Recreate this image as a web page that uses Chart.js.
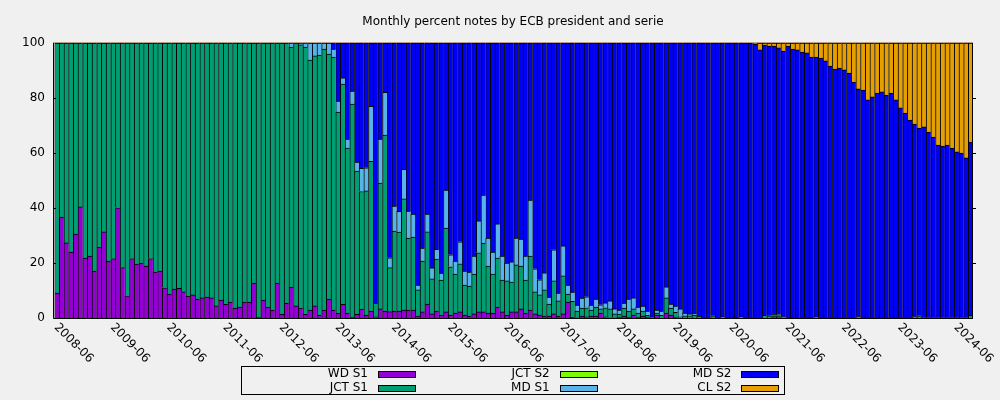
<!DOCTYPE html>
<html><head><meta charset="utf-8">
<script src="https://cdn.jsdelivr.net/npm/chart.js@4"></script>
<style>html,body{margin:0;padding:0;background:#f0f0f0;}canvas{display:block;}</style>
</head><body>
<canvas id="c" width="1000" height="400"></canvas>
<script>
const titleText = 'Monthly percent notes by ECB president and serie';
const seriesNames = ['WD S1','JCT S1','JCT S2','MD S1','MD S2','CL S2'];
const seriesColors = ['#9400d3','#009e73','#7cfc00','#56b4e9','#0000f5','#e69f00'];
const yTicks = [0,20,40,60,80,100];
const tickLabels = ['2008-06','2009-06','2010-06','2011-06','2012-06','2013-06','2014-06','2015-06','2016-06','2017-06','2018-06','2019-06','2020-06','2021-06','2022-06','2023-06','2024-06'];

const categories = [];
for (let y = 2008, m = 3; y < 2024 || (y === 2024 && m <= 6); m++) {
  if (m > 12) { m = 1; y++; }
  if (y === 2024 && m > 6) break;
  categories.push(y + '-' + String(m).padStart(2, '0'));
}

const wdS1 = [
9.1,36.7,27.3,24.0,30.5,40.4,21.8,22.5,17.1,25.8,
31.3,20.7,21.6,40.1,18.3,8.1,21.6,19.6,20.0,18.9,
21.6,16.7,17.1,11.0,8.7,10.5,10.8,9.5,8.0,8.4,
6.9,7.3,7.6,7.3,4.4,6.5,5.0,5.8,3.6,4.0,
5.8,5.8,12.7,0.3,6.5,4.0,2.9,12.7,1.3,5.3,
11.2,4.4,3.6,1.3,2.9,4.4,1.0,2.9,6.9,2.9,
1.8,5.0,1.8,0.3,1.3,3.2,1.1,2.5,0.4,3.3,
2.5,2.3,2.5,2.5,2.9,2.9,2.9,0.7,2.2,5.1,
1.5,2.5,1.1,2.2,1.1,1.8,2.2,1.1,0.7,1.5,
2.2,2.2,1.8,1.8,4.0,2.2,1.1,2.2,2.2,3.3,
1.8,2.9,1.5,1.1,0.7,0.7,1.5,0.7,1.5,5.8,
0.2,0.1,0.7,0.4,0.7,0.7,1.8,0.4,0.1,0.1,
0.3,0.7,0.3,1.1,0.3,0.7,0.3,0,1.1,0,
1.8,1.1,0.3,0,0,0,0,0,0,0,
0,0,0,0,0,0,0,0,0,0,
0,0,0,0.5,0.5,0,0,0,0,0,
0,0,0,0,0,0,0,0,0,0,
0,0,0,0,0,0,0,0,0,0,
0,0,0,0,0,0,0,0,0,0,
0,0,0,0,0,0];

const jctS1 = [
90.9,63.3,72.7,76.0,69.5,59.6,78.2,77.5,82.9,74.2,
68.7,79.3,78.4,59.9,81.7,91.9,78.4,80.4,80.0,81.1,
78.4,83.3,82.9,89.0,91.3,89.5,89.2,90.5,92.0,91.6,
93.1,92.7,92.4,92.7,95.6,93.5,95.0,94.2,96.4,96.0,
94.2,94.2,87.3,99.7,93.5,96.0,97.1,87.3,98.7,94.7,
87.3,95.6,95.7,97.2,90.9,90.9,94.6,94.9,89.1,92.0,
73.1,80.1,60.0,77.5,52.1,42.8,45.1,54.5,5.0,45.8,
64.0,16.0,29.1,28.7,40.4,26.2,26.5,9.5,18.5,26.2,
12.7,18.9,12.7,30.5,17.5,14.2,17.5,10.9,10.9,14.5,
21.5,25.0,17.1,14.2,17.8,11.6,12.4,10.9,17.1,15.6,
12.0,19.6,8.0,7.3,9.5,4.4,12.0,5.5,13.8,2.9,
5.9,2.4,2.9,3.3,2.2,3.3,1.5,3.3,3.2,1.4,
1.1,2.9,2.2,2.2,1.5,1.8,0.7,0.3,0.7,1.0,
5.5,2.5,1.8,0.4,0.8,0.8,1.1,0.7,0,0,
0.8,0,0.4,0,0,0,0.4,0,0,0,
0,1.0,0.8,0.4,0.4,0.5,0,0,0,0,
0,0,0.4,0,0,0,0,0,0,0,
0,0.5,0,0,0,0,0,0,0,0,
0,0,0,0.5,0.8,0.2,0.2,0.2,0.2,0.2,
0.2,0.2,0.2,0.2,0.2,1.0];

const jctS2 = [
0,0,0,0,0,0,0,0,0,0, 0,0,0,0,0,0,0,0,0,0,
0,0,0,0,0,0,0,0,0,0, 0,0,0,0,0,0,0,0,0,0,
0,0,0,0,0,0,0,0,0,0, 0,0,0,0,0,0,0,0,0,0,
0,0,0,0,0,0,0,0,0,0, 0,0,0,0,0,0,0,0,0,0,
0,0,0,0,0,0,0,0,0,0, 0,0,0,0,0,0,0,0,0,0,
0,0,0,0,0,0,0,0,0,0, 0,0,0,0,0,0,0,0,0,0,
0,0,0,0,0,0,0,0,0,0, 0,0,0,0,0,0,0,0,0,0,
0,0,0,0,0,0,0,0,0,0, 0,0,0,0,0,0,0,0,0,0,
0,0,0,0,0,0,0,0,0,0, 0,0,0,0,0,0];

const mdS1 = [
0,0,0,0,0,0,0,0,0,0, 0,0,0,0,0,0,0,0,0,0,
0,0,0,0,0,0,0,0,0,0, 0,0,0,0,0,0,0,0,0,0,
0,0,0,0,0,0,0,0,0,0,
1.5,0,0.7,1.5,6.2,4.7,4.4,2.2,4.0,2.9,
4.0,2.2,3.3,4.7,3.3,8.4,8.4,20.0,0,16.0,
15.6,3.6,9.1,7.6,10.8,9.8,8.4,1.8,4.7,6.5,
4.0,3.6,2.5,13.8,4.4,4.7,8.0,5.1,5.1,6.5,
11.6,17.5,10.2,8.0,12.4,8.7,6.5,7.3,9.8,9.8,
8.7,20.4,8.4,5.5,6.2,2.5,11.3,2.9,10.9,3.3,
3.3,2.2,3.6,4.0,1.8,2.9,1.5,1.8,2.9,1.8,
1.5,1.8,4.4,4.0,2.2,1.8,1.5,0,1.1,1.5,
4.0,1.5,2.2,2.9,1.0,0.7,0.4,0,0,0,
0,0,0,0,0,0,0,0,0,0,
0,0,0,0.4,0.5,0,0,0,0,0,
0,0,0,0,0,0,0,0,0,0, 0,0,0,0,0,0,0,0,0,0,
0,0,0,0,0,0,0,0,0,0, 0,0,0,0,0,0];

const mdS2 = [
0,0,0,0,0,0,0,0,0,0, 0,0,0,0,0,0,0,0,0,0,
0,0,0,0,0,0,0,0,0,0, 0,0,0,0,0,0,0,0,0,0,
0,0,0,0,0,0,0,0,0,0,
0,0,0,0,0,0,0,0,0,2.2,
21.1,12.7,34.9,17.5,43.3,45.5,45.5,22.9,94.6,34.9,
17.8,78.1,59.3,61.1,45.9,61.1,62.2,88.0,74.5,62.2,
81.8,74.9,83.6,53.5,77.1,79.3,72.4,82.9,83.3,77.5,
64.7,55.3,70.9,76.0,65.8,77.5,80.0,79.6,70.9,71.3,
77.5,57.1,82.2,86.2,83.6,92.4,75.3,90.9,73.8,88.0,
90.5,95.3,92.7,92.4,95.3,93.1,95.3,94.5,93.8,96.7,
97.1,94.5,93.1,92.7,96.0,95.6,97.5,99.7,97.1,97.5,
88.7,94.9,95.6,96.7,98.2,98.5,98.5,99.3,100,100,
99.2,100,99.6,100,100,100,99.6,100,100,99.5,
97.5,98.2,98.1,97.6,96.8,96.6,98.9,97.8,97.5,96.7,
96.4,94.9,94.5,94.5,93.5,91.6,90.5,90.9,90.2,89.1,
85.8,82.8,82.9,79.3,80.4,81.8,82.2,81.1,81.8,79.3,
76.4,74.5,72.0,70.0,68.3,69.3,67.4,65.6,62.7,62.3,
62.7,61.6,60.2,59.8,58.0,63.0];

const clS2 = [
0,0,0,0,0,0,0,0,0,0, 0,0,0,0,0,0,0,0,0,0,
0,0,0,0,0,0,0,0,0,0, 0,0,0,0,0,0,0,0,0,0,
0,0,0,0,0,0,0,0,0,0, 0,0,0,0,0,0,0,0,0,0,
0,0,0,0,0,0,0,0,0,0, 0,0,0,0,0,0,0,0,0,0,
0,0,0,0,0,0,0,0,0,0, 0,0,0,0,0,0,0,0,0,0,
0,0,0,0,0,0,0,0,0,0, 0,0,0,0,0,0,0,0,0,0,
0,0,0,0,0,0,0,0,0,0, 0,0,0,0,0,0,0,0,0,0,
0,0,0,0,0,0,0,0,0,0.5,
2.5,0.8,1.1,1.1,1.8,2.9,1.1,2.2,2.5,3.3,
3.6,5.1,5.1,5.5,6.5,8.4,9.5,9.1,9.8,10.9,
14.2,16.7,17.1,20.7,19.6,18.2,17.8,18.9,18.2,20.7,
23.6,25.5,28.0,29.5,30.9,30.5,32.4,34.2,37.1,37.5,
37.1,38.2,39.6,40.0,41.8,36.0];

const seriesData = [wdS1, jctS1, jctS2, mdS1, mdS2, clS2];
const FONT = '"DejaVu Sans", sans-serif';

const deco = {
  id: 'deco',
  beforeDraw(chart) {
    const c = chart.ctx;
    c.save(); c.fillStyle = '#f0f0f0'; c.fillRect(0, 0, chart.width, chart.height); c.restore();
  },
  afterDraw(chart) {
    const c = chart.ctx, a = chart.chartArea, xs = chart.scales.x, ys = chart.scales.y;
    c.save();
    c.lineWidth = 1;
    // top border
    c.strokeStyle = '#b8a08c';
    c.beginPath(); c.moveTo(53, Math.round(a.top) - 0.5); c.lineTo(a.right, Math.round(a.top) - 0.5); c.stroke();
    // left, bottom, right borders
    c.strokeStyle = '#000';
    c.beginPath();
    c.moveTo(53.5, Math.round(a.top)); c.lineTo(53.5, Math.round(a.bottom) + 0.5);
    c.lineTo(Math.round(a.right), Math.round(a.bottom) + 0.5);
    c.moveTo(Math.round(a.right) - 0.5, Math.round(a.top)); c.lineTo(Math.round(a.right) - 0.5, Math.round(a.bottom));
    c.stroke();
    // y ticks and labels
    c.font = '12px ' + FONT; c.fillStyle = '#000'; c.textAlign = 'right'; c.textBaseline = 'middle';
    yTicks.forEach(v => {
      const yp = ys.getPixelForValue(v);
      const y = Math.round(yp) + 0.5;
      if (v > 0 && v < 100) {
        c.beginPath(); c.moveTo(53, y); c.lineTo(56, y);
        c.moveTo(Math.round(a.right), y); c.lineTo(Math.round(a.right) + 3, y); c.stroke();
      }
      c.fillText(String(v), 45, yp);
    });
    // x labels rotated
    c.textAlign = 'left'; c.textBaseline = 'middle';
    tickLabels.forEach(lbl => {
      const idx = categories.indexOf(lbl);
      if (idx < 0) return;
      const xp = xs.getPixelForValue(idx);
      c.save();
      c.translate(xp - 15, a.bottom + 7.5);
      c.rotate(Math.PI / 4);
      c.fillText(lbl, 0, 0);
      c.restore();
    });
    // title
    c.textAlign = 'center'; c.textBaseline = 'middle';
    c.fillText(titleText, (53 + a.right) / 2, 22);
    // legend
    c.strokeRect(241.5, 366.5, 543, 28);
    chart.data.datasets.forEach((ds, i) => {
      const col = Math.floor(i / 2), row = i % 2;
      const tx = 368 + col * 181.7, ty = 373.5 + row * 14;
      c.textAlign = 'right'; c.fillStyle = '#000';
      c.fillText(ds.label, tx, ty);
      const sx = Math.round(378 + col * 181.7) + 0.5, sy = Math.round(ty - 3) + 0.5;
      c.fillStyle = ds.backgroundColor;
      c.fillRect(sx, sy, 37, 6);
      c.strokeStyle = '#000';
      c.strokeRect(sx, sy, 37, 6);
    });
    c.restore();
  }
};

new Chart(document.getElementById('c'), {
  type: 'bar',
  data: {
    labels: categories,
    datasets: seriesNames.map((n, i) => ({
      label: n,
      data: seriesData[i],
      backgroundColor: seriesColors[i],
      borderColor: '#000',
      borderWidth: {top: 1, left: 1, right: 0, bottom: 0},
      borderSkipped: false,
      categoryPercentage: 1.0,
      barPercentage: 1.0
    }))
  },
  options: {
    responsive: false,
    animation: false,
    layout: {padding: {left: 54.5, right: 27, top: 43, bottom: 82}},
    scales: {
      x: {stacked: true, display: false},
      y: {stacked: true, display: false, min: 0, max: 100}
    },
    plugins: {legend: {display: false}, title: {display: false}, tooltip: {enabled: false}}
  },
  plugins: [deco]
});
</script>
</body></html>
